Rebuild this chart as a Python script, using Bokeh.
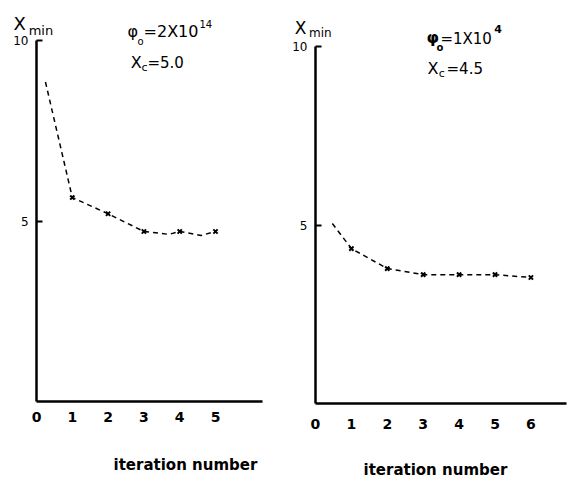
from bokeh.plotting import figure
from bokeh.layouts import row
from bokeh.models import Range1d, FixedTicker, Label, LinearAxis
from bokeh.embed import file_html
from bokeh.resources import INLINE

# ---- data ----
# left panel: phi_o = 2x10^14, Xc = 5.0
left_iter = [1, 2, 3, 4, 5]
left_xmin = [5.65, 5.2, 4.71, 4.71, 4.71]
left_curve_x = [0.25, 1, 2, 3, 3.7, 4, 4.6, 5]
left_curve_y = [8.85, 5.65, 5.2, 4.71, 4.63, 4.71, 4.6, 4.71]
left_xticks = [0, 1, 2, 3, 4, 5]

# right panel: phi_o = 1x10^4, Xc = 4.5
right_iter = [1, 2, 3, 4, 5, 6]
right_xmin = [4.34, 3.78, 3.61, 3.61, 3.61, 3.53]
right_curve_x = [0.47, 1, 2, 3, 4, 5, 6]
right_curve_y = [5.04, 4.34, 3.78, 3.61, 3.61, 3.61, 3.53]
right_xticks = [0, 1, 2, 3, 4, 5, 6]

y_ticks = [5, 10]
xlabel = "iteration number"

FONT = "DejaVu Sans"


def make_panel(width, height, xr, yr, xend, xticks, xstandoff):
    p = figure(width=width, height=height, output_backend="svg", toolbar_location=None,
               x_range=Range1d(*xr), y_range=Range1d(*yr),
               x_axis_location=None, y_axis_location=None,
               min_border=0, min_border_left=0, min_border_right=0,
               min_border_top=0, min_border_bottom=0)
    p.outline_line_color = None
    p.xgrid.visible = False
    p.ygrid.visible = False
    p.background_fill_color = "white"
    p.border_fill_color = "white"

    xa = LinearAxis(fixed_location=0, bounds=(0, xend), ticker=FixedTicker(ticks=xticks))
    ya = LinearAxis(fixed_location=0, bounds=(0, 10), ticker=FixedTicker(ticks=y_ticks))
    for ax in (xa, ya):
        ax.axis_line_width = 2.5
        ax.axis_line_color = "black"
        ax.minor_tick_line_color = None
        ax.major_label_text_color = "black"
        ax.major_label_text_font = FONT
    xa.major_tick_line_color = None
    xa.major_label_text_font_size = "14px"
    xa.major_label_text_font_style = "bold"
    xa.major_label_standoff = xstandoff
    ya.major_tick_in = 6
    ya.major_tick_out = 0
    ya.major_tick_line_width = 2
    ya.major_label_text_font_size = "12px"
    ya.major_label_standoff = 8
    p.add_layout(xa, "below")
    p.add_layout(ya, "left")
    return p


def lab(p, x, y, text, size, bold=False, align="left", baseline="alphabetic"):
    p.add_layout(Label(x=x, y=y, text=text, text_font=FONT, text_font_size=size,
                       text_font_style="bold" if bold else "normal",
                       text_align=align, text_baseline=baseline, text_color="black"))


# ---- left panel ----
p1 = make_panel(290, 480, (-1.006, 7.095), (-2.188, 11.108), 6.3, left_xticks, 4)
p1.line(left_curve_x, left_curve_y, line_color="black", line_width=1.5, line_dash="5 4")
p1.scatter(left_iter, left_xmin, marker="x", size=6, line_width=2, color="black")
lab(p1, -0.64, 10.47, "X", "18px")
lab(p1, -0.22, 10.28, "min", "13px")
lab(p1, 2.54, 10.25, "φ", "16px", baseline="middle")
lab(p1, 2.82, 9.97, "o", "10px", baseline="middle")
lab(p1, 2.99, 10.25, "=2X10", "16px", baseline="middle")
lab(p1, 4.55, 10.47, "14", "10px", baseline="middle")
lab(p1, 2.63, 9.39, "X", "16px")
lab(p1, 2.93, 9.25, "c", "11px")
lab(p1, 3.10, 9.39, "=5.0", "15px")
lab(p1, 4.16, -1.77, xlabel, "15px", bold=True, align="center", baseline="middle")

# ---- right panel ----
p2 = make_panel(292, 480, (-0.696, 7.437), (-2.157, 11.289), 7.0, right_xticks, 10)
p2.line(right_curve_x, right_curve_y, line_color="black", line_width=1.5, line_dash="5 4")
p2.scatter(right_iter, right_xmin, marker="x", size=6, line_width=2, color="black")
lab(p2, -0.58, 10.53, "X", "17px")
lab(p2, -0.18, 10.39, "min", "12px")
lab(p2, 3.09, 10.25, "φ", "16px", bold=True, baseline="middle")
lab(p2, 3.37, 9.97, "o", "10px", bold=True, baseline="middle")
lab(p2, 3.48, 10.22, "=1X10", "15px", baseline="middle")
lab(p2, 4.98, 10.48, "4", "11px", bold=True, baseline="middle")
lab(p2, 3.12, 9.38, "X", "16px")
lab(p2, 3.43, 9.24, "c", "11px")
lab(p2, 3.65, 9.36, "=4.5", "15px")
lab(p2, 3.34, -1.85, xlabel, "15px", bold=True, align="center", baseline="middle")

layout = row(p1, p2)
open("out.html", "w").write(file_html(layout, INLINE))
